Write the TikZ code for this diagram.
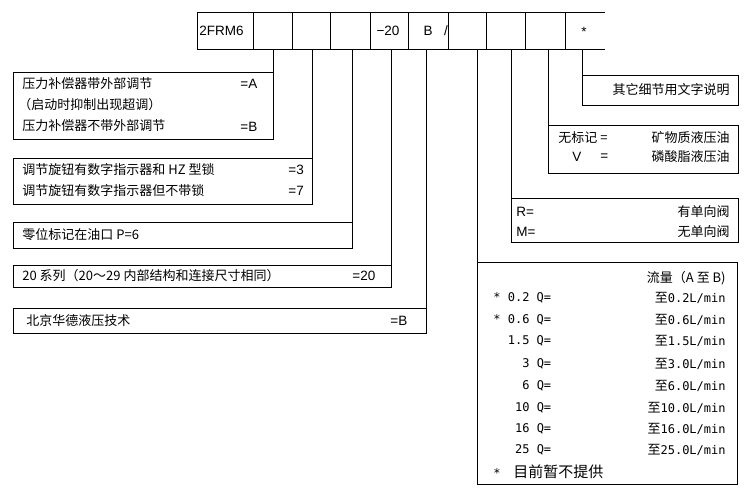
\documentclass[tikz,border=0pt]{standalone}
\usepackage{fontspec}
\setmainfont{Noto Sans CJK SC}
\newfontfamily\monof{DejaVu Sans Mono}
\newfontfamily\latf{Liberation Sans}
\begin{document}
\begin{tikzpicture}[x=1pt,y=-1pt,
  line width=0.8pt,
  cell/.style={draw, minimum height=37pt, inner sep=0pt, anchor=north west},
  tbox/.style={draw, inner sep=0pt, anchor=north west},
  txt/.style={inner sep=0pt, font=\fontsize{13}{15}\selectfont},
  lat/.style={inner sep=0pt, font=\latf\fontsize{13.5}{15}\selectfont},
  mono/.style={inner sep=0pt, font=\monof\fontsize{12}{14}\selectfont}]
\useasboundingbox (0,0) rectangle (750,496);
% header cells
\node[cell, minimum width=56pt] (c1) at (197,12) {};
\node[cell, minimum width=39pt] (c2) at (253,12) {};
\node[cell, minimum width=38pt] (c3) at (292,12) {};
\node[cell, minimum width=40pt] (c4) at (330,12) {};
\node[cell, minimum width=38pt] (c5) at (370,12) {};
\node[cell, minimum width=40pt] (c6) at (408,12) {};
\node[cell, minimum width=38pt] (c7) at (448,12) {};
\node[cell, minimum width=39pt] (c8) at (486,12) {};
\node[cell, minimum width=40pt] (c9) at (525,12) {};
\coordinate (c10tl) at (565,12);
\coordinate (c10tr) at (605,12);
\coordinate (c10bl) at (565,49);
\coordinate (c10br) at (605,49);
\draw (c10tl) -- (c10tr) (c10bl) -- (c10br);
\node[lat, anchor=west] (t1) at (199,30.5) {2FRM6};
\node[lat] (t5) at (388,30.5) {−20};
\node[lat] (t6) at (428,30.5) {B};
\node[lat] (t6s) at (446,30.5) {/};
\node[lat] (t10) at (584,31.5) {*};
% left boxes
\node[tbox, minimum width=260pt, minimum height=67pt] (b1) at (13,72) {};
\node[txt, anchor=west] (b1a) at (22,84) {压力补偿器带外部调节};
\node[lat, anchor=west] (b1ae) at (240,84) {=A};
\node[txt, anchor=west] (b1b) at (18,105) {（启动时抑制出现超调）};
\node[txt, anchor=west] (b1c) at (22,126) {压力补偿器不带外部调节};
\node[lat, anchor=west] (b1ce) at (240,127) {=B};
\node[tbox, minimum width=299pt, minimum height=46pt] (b2) at (13,158) {};
\node[txt, anchor=west] (b2a) at (22,170) {调节旋钮有数字指示器和 HZ 型锁};
\node[lat, anchor=west] (b2ae) at (288,170) {=3};
\node[txt, anchor=west] (b2b) at (22,191) {调节旋钮有数字指示器但不带锁};
\node[lat, anchor=west] (b2be) at (288,191) {=7};
\node[tbox, minimum width=339pt, minimum height=26pt] (b3) at (13,222) {};
\node[txt, anchor=west] (b3a) at (22,235) {零位标记在油口 P=6};
\node[tbox, minimum width=378pt, minimum height=22pt] (b4) at (13,265) {};
\node[txt, anchor=west] (b4a) at (22,276) {20 系列（20～29 内部结构和连接尺寸相同）};
\node[lat, anchor=west] (b4ae) at (352,276) {=20};
\node[tbox, minimum width=413pt, minimum height=25pt] (b5) at (13,308) {};
\node[txt, anchor=west] (b5a) at (26,321) {北京华德液压技术};
\node[lat, anchor=west] (b5ae) at (390,321) {=B};
% right boxes
\node[tbox, minimum width=156pt, minimum height=30pt] (r1) at (582,75) {};
\node[txt, anchor=east] (r1a) at (730,90) {其它细节用文字说明};
\node[tbox, minimum width=190pt, minimum height=48pt] (r2) at (548,125) {};
\node[txt, anchor=west] (r2a) at (558,138) {无标记 =};
\node[txt, anchor=east] (r2b) at (730,138) {矿物质液压油};
\node[lat, anchor=west] (r2c) at (572,157) {V};
\node[lat, anchor=west] (r2d) at (600,157) {=};
\node[txt, anchor=east] (r2e) at (730,157) {磷酸脂液压油};
\node[tbox, minimum width=227pt, minimum height=44pt] (r3) at (511,198) {};
\node[lat, anchor=west] (r3a) at (516,212) {R=};
\node[txt, anchor=east] (r3b) at (730,212) {有单向阀};
\node[lat, anchor=west] (r3c) at (516,232) {M=};
\node[txt, anchor=east] (r3d) at (730,232) {无单向阀};
\node[tbox, minimum width=260pt, minimum height=222pt] (r4) at (477,262) {};
\node[txt, anchor=east] (f0) at (726,278) {流量（A 至 B)};
\foreach \n/\y/\a/\b in {1/298/{* 0.2}/0.2, 2/320/{* 0.6}/0.6, 3/341/{\ \ 1.5}/1.5, 4/364/{\ \ \ \ 3}/3.0, 5/386/{\ \ \ \ 6}/6.0, 6/408/{\ \ \ 10}/10.0, 7/429/{\ \ \ 16}/16.0, 8/450/{\ \ \ 25}/25.0}{
  \node[mono, anchor=west] (fa\n) at (493,\y) {\a\ Q=};
  \node[anchor=east, inner sep=0pt] (fb\n) at (726,\y) {\fontsize{13}{15}\selectfont 至\monof\fontsize{12}{14}\selectfont\b L/min};
}
\node[mono, anchor=west] (fs) at (493,473) {*};
\node[txt, anchor=west] (fsa) at (513,472) {\fontsize{15}{17}\selectfont 目前暂不提供};
% connectors
\draw (c2.south -| b1.north east) -- (b1.north east);
\draw (c3.south -| b2.north east) -- (b2.north east);
\draw (c4.south -| b3.north east) -- (b3.north east);
\draw (c5.south -| b4.north east) -- (b4.north east);
\draw (c6.south -| b5.north east) -- (b5.north east);
\draw (c7.south -| r4.north west) -- (r4.north west);
\draw (c8.south -| r3.north west) -- (r3.north west);
\draw (c9.south -| r2.north west) -- (r2.north west);
\draw (c10bl -| r1.north west) -- (r1.north west);
\end{tikzpicture}
\end{document}
